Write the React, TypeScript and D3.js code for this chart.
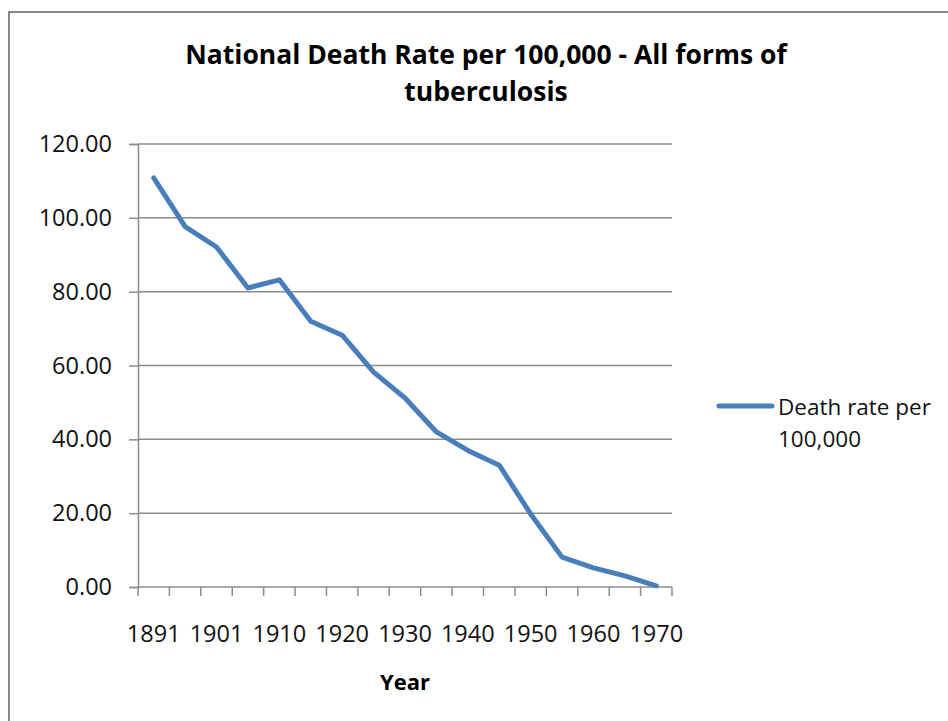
import React from "react";
import * as d3 from "d3";
import { useEffect, useRef } from "react";

// categories on the x axis (only every other one gets a label)
const years = [
  "1891", "1896", "1901", "1905", "1910", "1915", "1920", "1925", "1930",
  "1935", "1940", "1945", "1950", "1955", "1960", "1965", "1970",
];

// death rate per 100,000
const deathRate = [
  110.8, 97.6, 92.1, 81.0, 83.2, 72.0, 68.2, 58.2, 51.2,
  42.0, 37.0, 33.0, 19.8, 8.1, 5.2, 3.0, 0.3,
];

const yTicks = [0, 20, 40, 60, 80, 100, 120];

const titleLines = ["National Death Rate per 100,000 - All forms of", "tuberculosis"];
const legendLines = ["Death rate per", "100,000"];

function App() {
  const canvas = useRef<HTMLDivElement>(null);

  const drawChart = () => {
    const width = 948;
    const height = 721;
    const left = 138;
    const right = 672;
    const top = 144;
    const bottom = 587;
    const font = "'Open Sans', sans-serif";
    const gray = "#8c8c8c";

    d3.select(canvas.current).selectAll("*").remove();

    const svg = d3
      .select(canvas.current)
      .append("svg")
      .attr("width", width)
      .attr("height", height)
      .style("position", "absolute")
      .style("left", "0px")
      .style("top", "0px")
      .style("background", "#fff");

    // outer chart border
    svg
      .append("rect")
      .attr("x", 9)
      .attr("y", 12)
      .attr("width", 960)
      .attr("height", 740)
      .attr("fill", "#fff")
      .attr("stroke", "#888")
      .attr("stroke-width", 2);

    const y = d3.scaleLinear().domain([0, 120]).range([bottom, top]);
    const x = d3.scaleBand().domain(years).range([left, right]).padding(0);

    // gridlines
    svg
      .append("g")
      .selectAll("line")
      .data(yTicks.filter((d) => d > 0))
      .enter()
      .append("line")
      .attr("x1", left)
      .attr("x2", right)
      .attr("y1", (d) => y(d))
      .attr("y2", (d) => y(d))
      .attr("stroke", gray)
      .attr("stroke-width", 1.5);

    // y axis
    const yAxis = svg
      .append("g")
      .attr("transform", `translate(${left},0)`)
      .call(
        d3
          .axisLeft(y)
          .tickValues(yTicks)
          .tickFormat(d3.format(".2f"))
          .tickSize(9)
          .tickPadding(17)
      );
    yAxis.select(".domain").attr("stroke", gray).attr("stroke-width", 1.5);
    yAxis.selectAll(".tick line").attr("stroke", gray).attr("stroke-width", 1.5);
    yAxis
      .selectAll(".tick text")
      .attr("font-family", font)
      .attr("font-size", 23.5)
      .attr("fill", "#111");

    // x axis: ticks between categories, labels on every other category
    const xg = svg.append("g");
    xg.append("line")
      .attr("x1", left)
      .attr("x2", right)
      .attr("y1", bottom)
      .attr("y2", bottom)
      .attr("stroke", gray)
      .attr("stroke-width", 1.5);
    const edges = years.map((d) => x(d)!).concat([x(years[years.length - 1])! + x.bandwidth()]);
    xg.selectAll(".xtick")
      .data(edges)
      .enter()
      .append("line")
      .attr("x1", (d) => d)
      .attr("x2", (d) => d)
      .attr("y1", bottom)
      .attr("y2", bottom + 9)
      .attr("stroke", gray)
      .attr("stroke-width", 1.5);
    xg.selectAll(".xlabel")
      .data(years.filter((d, i) => i % 2 === 0))
      .enter()
      .append("text")
      .attr("x", (d) => x(d)! + x.bandwidth() / 2)
      .attr("y", 642)
      .attr("text-anchor", "middle")
      .attr("font-family", font)
      .attr("font-size", 23.5)
      .attr("fill", "#111")
      .text((d) => d);

    // the series line
    const line = d3
      .line<number>()
      .x((d, i) => x(years[i])! + x.bandwidth() / 2)
      .y((d) => y(d));
    svg
      .append("path")
      .datum(deathRate)
      .attr("d", line)
      .attr("fill", "none")
      .attr("stroke", "#4a7ebb")
      .attr("stroke-width", 5)
      .attr("stroke-linejoin", "round")
      .attr("stroke-linecap", "round");

    // title
    svg
      .append("g")
      .selectAll("text")
      .data(titleLines)
      .enter()
      .append("text")
      .attr("x", 486)
      .attr("y", (d, i) => 64 + i * 37)
      .attr("text-anchor", "middle")
      .attr("font-family", font)
      .attr("font-weight", "bold")
      .attr("font-size", 26.5)
      .attr("fill", "#000")
      .text((d) => d);

    // axis title
    svg
      .append("text")
      .attr("x", (left + right) / 2)
      .attr("y", 690)
      .attr("text-anchor", "middle")
      .attr("font-family", font)
      .attr("font-weight", "bold")
      .attr("font-size", 22)
      .attr("fill", "#000")
      .text("Year");

    // legend
    svg
      .append("line")
      .attr("x1", 719)
      .attr("x2", 772)
      .attr("y1", 406)
      .attr("y2", 406)
      .attr("stroke", "#4a7ebb")
      .attr("stroke-width", 5)
      .attr("stroke-linecap", "round");
    svg
      .append("g")
      .selectAll("text")
      .data(legendLines)
      .enter()
      .append("text")
      .attr("x", 778)
      .attr("y", (d, i) => 415 + i * 32)
      .attr("font-family", font)
      .attr("font-size", 22.5)
      .attr("fill", "#111")
      .text((d) => d);
  };

  useEffect(() => {
    drawChart();
  });

  return <div ref={canvas}></div>;
}

export default App;
